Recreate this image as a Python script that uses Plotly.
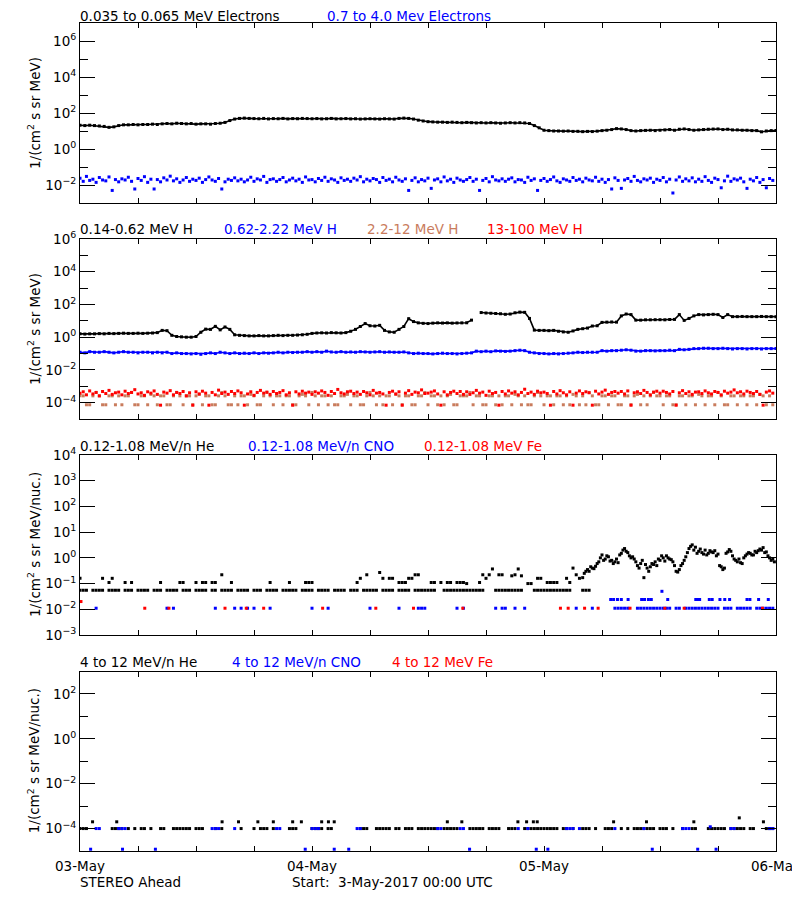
import plotly.graph_objects as go

# ---------------- DATA (hours since 3-May-2017 00:00 UTC) ----------------
# Panel 1, 30-min samples, 0..72 h
e_low = [
 21,20,21,20,19,18,16,17,20,22,22,23,
 22,23,23,24,23,25,26,25,27,26,25,26,
 24,25,25,24,26,27,30,38,46,50,52,50,
 49,48,50,47,49,48,50,47,49,48,50,49,
 48,49,47,48,50,47,48,49,47,48,46,47,
 48,47,46,48,47,46,50,52,50,46,40,36,
 33,32,31,31,30,31,30,29,30,29,28,29,
 28,29,28,27,28,29,28,29,28,26,20,15,
 11,10.5,10,10,9.8,10,9.5,9.6,9.2,9.5,9.3,9.8,
 10.5,11,12,13.5,13,12,10.5,10,10.5,10.8,11,10.5,
 11,11.5,12,11,12.5,13,12,11,11.5,12,12.5,12.8,
 13,12,12.5,11.5,11.5,11,11,10.5,10.5,9,10,10.5,
 10.5]
# Panel 1, 20-min samples
e_high = [
 .024,.016,.030,.018,.021,.014,.026,.019,.017,.028,.005,.020,
 .015,.022,.019,.027,.016,.006,.023,.018,.029,.014,.021,.006,
 .020,.015,.025,.019,.031,.017,.022,.014,.019,.026,.016,.021,
 .018,.024,.014,.020,.028,.019,.016,.023,.006,.015,.021,.018,
 .025,.017,.021,.015,.019,.027,.016,.022,.019,.030,.014,.020,
 .022,.016,.020,.026,.015,.019,.024,.017,.021,.014,.028,.019,
 .020,.015,.023,.018,.027,.016,.022,.019,.014,.025,.018,.021,
 .016,.024,.019,.029,.015,.021,.017,.023,.020,.014,.026,.018,
 .021,.015,.027,.019,.016,.022,.005,.018,.025,.015,.020,.017,
 .024,.0065,.019,.022,.015,.028,.017,.021,.014,.024,.019,.016,
 .020,.026,.016,.021,.005,.018,.023,.015,.029,.019,.017,.022,
 .016,.021,.025,.015,.020,.019,.014,.027,.018,.022,.005,.018,
 .023,.016,.020,.028,.017,.014,.022,.019,.016,.026,.018,.021,
 .015,.024,.019,.017,.027,.016,.021,.014,.020,.006,.025,.018,
 .0065,.019,.023,.016,.030,.018,.015,.022,.019,.024,.014,.021,
 .018,.026,.015,.021,.0036,.019,.028,.016,.022,.017,.025,.015,
 .021,.016,.029,.018,.014,.024,.020,.007,.017,.031,.016,.022,
 .019,.024,.015,.0065,.021,.017,.026,.014,.020,.007,.023,.018]

# Panel 2, 30-min samples
h_014_062 = [
 1.6,1.55,1.6,1.6,1.65,1.6,1.7,1.65,1.7,1.75,1.7,1.7,
 1.75,1.7,1.75,1.8,1.9,2.6,2.5,1.3,1.1,1.05,1.0,1.0,
 1.1,2.0,3.1,3.0,4.6,2.8,4.2,3.0,1.4,1.3,1.25,1.2,
 1.2,1.25,1.2,1.2,1.25,1.3,1.25,1.3,1.3,1.35,1.4,1.5,
 1.7,1.8,1.85,1.8,1.9,1.85,1.8,1.9,2.3,3.0,4.5,6.8,
 5.0,4.8,5.3,2.6,2.1,2.0,3.0,4.5,13.5,9.0,7.5,7.0,
 6.8,7.2,7.5,7.3,7.5,7.2,7.4,7.5,7.6,11,None,32,
 30,29,28,27,25,26,31,34,33,14,2.7,2.6,
 2.6,2.5,2.6,2.3,2.1,2.0,2.4,3.0,3.3,3.6,4.8,5.0,
 8.0,8.3,8.5,8.3,20,26,24,11,11,11.5,11.5,11.7,
 11.7,11.5,12,12.2,24,10.6,14,20,24,23,24,25,
 24,16,24,18,18,18.5,18,18,18,18.5,18,18,
 18]
h_062_222 = [
 .12,.11,.13,.12,.12,.13,.12,.11,.12,.13,.12,.12,
 .11,.12,.12,.11,.12,.11,.12,.10,.11,.10,.10,.095,
 .10,.09,.10,.11,.10,.12,.11,.10,.11,.10,.105,.10,
 .11,.10,.11,.105,.11,.12,.11,.12,.115,.12,.12,.13,
 .12,.13,.12,.14,.125,.12,.13,.12,.125,.12,.13,.125,
 .12,.125,.13,.12,.125,.12,.12,.125,.11,.10,.105,.10,
 .10,.095,.10,.105,.10,.10,.095,.10,.105,.11,.14,.13,
 .14,.13,.145,.14,.135,.14,.15,.16,.15,.12,.11,.10,
 .10,.095,.10,.095,.10,.105,.11,.12,.115,.12,.12,.12,
 .15,.14,.15,.15,.16,.17,.16,.14,.14,.15,.15,.145,
 .15,.15,.16,.15,.18,.17,.18,.20,.20,.21,.21,.20,
 .20,.21,.20,.19,.20,.20,.19,.20,.20,.19,.20,.20,
 .20]
# Panel 2, 20-min samples
h_22_12 = [
 2.6e-4,2.6e-4,7.4e-5,7.4e-5,2.6e-4,4.2e-4,2.6e-4,7.4e-5,7.4e-5,2.6e-4,2.6e-4,7.4e-5,
 2.6e-4,7.4e-5,2.6e-4,2.6e-4,4.2e-4,7.4e-5,7.4e-5,2.6e-4,2.6e-4,7.4e-5,3.2e-4,2.6e-4,
 7.4e-5,2.6e-4,2.6e-4,7.4e-5,7.4e-5,2.6e-4,4.2e-4,2.6e-4,7.4e-5,2.6e-4,2.6e-4,7.4e-5,
 2.6e-4,3.2e-4,7.4e-5,2.6e-4,2.6e-4,7.4e-5,7.4e-5,2.6e-4,4.2e-4,2.6e-4,7.4e-5,7.4e-5,
 2.6e-4,7.4e-5,2.6e-4,2.6e-4,7.4e-5,3.2e-4,2.6e-4,7.4e-5,7.4e-5,2.6e-4,4.2e-4,2.6e-4,
 7.4e-5,2.6e-4,2.6e-4,7.4e-5,2.6e-4,2.6e-4,7.4e-5,7.4e-5,2.6e-4,3.2e-4,2.6e-4,7.4e-5,
 4.2e-4,2.6e-4,7.4e-5,2.6e-4,2.6e-4,7.4e-5,2.6e-4,7.4e-5,7.4e-5,2.6e-4,2.6e-4,3.2e-4,
 7.4e-5,2.6e-4,2.6e-4,7.4e-5,7.4e-5,2.6e-4,4.2e-4,2.6e-4,7.4e-5,2.6e-4,7.4e-5,2.6e-4,
 2.6e-4,7.4e-5,3.2e-4,2.6e-4,7.4e-5,2.6e-4,2.6e-4,7.4e-5,7.4e-5,2.6e-4,2.6e-4,4.2e-4,
 7.4e-5,2.6e-4,2.6e-4,7.4e-5,2.6e-4,7.4e-5,2.6e-4,3.2e-4,7.4e-5,7.4e-5,2.6e-4,2.6e-4,
 2.6e-4,4.2e-4,7.4e-5,2.6e-4,2.6e-4,7.4e-5,7.4e-5,2.6e-4,2.6e-4,7.4e-5,2.6e-4,7.4e-5,
 2.6e-4,2.6e-4,7.4e-5,3.2e-4,2.6e-4,7.4e-5,2.6e-4,7.4e-5,7.4e-5,2.6e-4,4.2e-4,2.6e-4,
 7.4e-5,2.6e-4,2.6e-4,7.4e-5,2.6e-4,2.6e-4,7.4e-5,2.6e-4,7.4e-5,3.2e-4,2.6e-4,7.4e-5,
 2.6e-4,7.4e-5,4.2e-4,2.6e-4,7.4e-5,7.4e-5,2.6e-4,2.6e-4,7.4e-5,2.6e-4,2.6e-4,7.4e-5,
 7.4e-5,2.6e-4,2.6e-4,7.4e-5,2.6e-4,3.2e-4,7.4e-5,2.6e-4,7.4e-5,2.6e-4,4.2e-4,2.6e-4,
 2.6e-4,7.4e-5,2.6e-4,2.6e-4,7.4e-5,7.4e-5,2.6e-4,2.6e-4,7.4e-5,2.6e-4,2.6e-4,7.4e-5,
 3.2e-4,2.6e-4,7.4e-5,2.6e-4,2.6e-4,7.4e-5,4.2e-4,2.6e-4,7.4e-5,7.4e-5,2.6e-4,2.6e-4,
 7.4e-5,2.6e-4,2.6e-4,7.4e-5,2.6e-4,2.6e-4,7.4e-5,3.2e-4,2.6e-4,7.4e-5,2.6e-4,7.4e-5]
h_13_100 = [
 3.8e-4,4.6e-4,3.0e-4,5.2e-4,3.4e-4,4.2e-4,2.6e-4,4.8e-4,3.6e-4,5.6e-4,3.2e-4,4.0e-4,
 4.4e-4,3.0e-4,5.0e-4,3.6e-4,4.2e-4,6.2e-4,3.4e-4,4.0e-4,2.8e-4,4.6e-4,3.8e-4,5.2e-4,
 3.2e-4,0.7e-4,4.4e-4,3.8e-4,5.4e-4,3.0e-4,4.2e-4,3.6e-4,4.8e-4,2.6e-4,4.0e-4,0.7e-4,
 4.6e-4,3.4e-4,5.0e-4,3.8e-4,0.7e-4,4.2e-4,3.0e-4,5.8e-4,3.6e-4,4.4e-4,3.2e-4,4.8e-4,
 3.6e-4,5.2e-4,4.0e-4,0.7e-4,3.4e-4,4.6e-4,2.8e-4,4.2e-4,5.6e-4,3.8e-4,4.4e-4,3.2e-4,
 4.8e-4,3.6e-4,4.2e-4,5.4e-4,3.0e-4,4.0e-4,0.7e-4,4.6e-4,3.4e-4,5.0e-4,3.8e-4,4.4e-4,
 3.2e-4,4.6e-4,3.8e-4,5.2e-4,4.2e-4,2.8e-4,4.8e-4,3.6e-4,6.4e-4,4.0e-4,3.4e-4,4.6e-4,
 5.0e-4,3.6e-4,4.4e-4,3.2e-4,4.8e-4,4.0e-4,3.0e-4,5.6e-4,3.8e-4,4.2e-4,3.4e-4,0.7e-4,
 4.2e-4,5.0e-4,3.4e-4,4.6e-4,0.7e-4,3.8e-4,5.4e-4,3.2e-4,4.4e-4,4.0e-4,6.0e-4,3.6e-4,
 3.8e-4,4.4e-4,5.2e-4,3.4e-4,0.7e-4,4.6e-4,3.0e-4,4.2e-4,5.0e-4,3.6e-4,4.8e-4,3.2e-4,
 4.6e-4,3.2e-4,4.0e-4,5.6e-4,3.8e-4,4.4e-4,2.8e-4,5.0e-4,3.6e-4,4.2e-4,0.7e-4,4.8e-4,
 3.4e-4,5.2e-4,3.8e-4,4.6e-4,3.0e-4,4.2e-4,6.6e-4,3.6e-4,4.4e-4,3.2e-4,5.0e-4,4.0e-4,
 4.4e-4,3.6e-4,0.7e-4,4.8e-4,3.4e-4,5.4e-4,4.0e-4,3.0e-4,4.6e-4,0.7e-4,3.8e-4,5.2e-4,
 3.6e-4,4.6e-4,4.0e-4,0.7e-4,5.0e-4,3.4e-4,4.4e-4,5.8e-4,3.2e-4,4.2e-4,4.8e-4,3.8e-4,
 4.8e-4,3.4e-4,5.2e-4,0.7e-4,4.0e-4,4.6e-4,3.6e-4,5.6e-4,4.2e-4,3.0e-4,4.4e-4,5.0e-4,
 3.8e-4,5.0e-4,4.2e-4,3.4e-4,4.8e-4,0.7e-4,4.0e-4,5.4e-4,3.6e-4,4.6e-4,3.2e-4,4.4e-4,
 4.6e-4,3.6e-4,5.2e-4,4.0e-4,3.4e-4,4.8e-4,4.2e-4,3.0e-4,5.0e-4,3.8e-4,4.4e-4,6.0e-4,
 4.0e-4,4.6e-4,3.4e-4,5.0e-4,4.2e-4,3.6e-4,4.8e-4,3.2e-4,0.7e-4,4.4e-4,5.2e-4,3.8e-4]

# Panel 3, 20-min samples (None = no counts)
he_low_base = [
 .055,.055,.055,None,.055,.055,.055,.055,None,.055,.055,.055,
 .055,None,.055,.055,.055,None,.055,.055,.055,.055,None,.055,
 .055,.055,None,.055,.055,.055,.055,None,.055,.055,.055,None,
 .055,.055,.055,.055,None,.055,.055,None,.055,.055,.055,.055,
 None,.055,.055,.055,.055,None,.055,.055,.055,None,.055,.055,
 .055,.055,None,.055,.055,.055,.055,.055,None,.055,.055,.055,
 .055,None,.055,.055,.055,.055,None,.055,.055,.055,.055,None,
 .055,.055,.055,None,.055,.055,.055,.055,.055,None,.055,.055,
 .055,.055,None,.055,.055,.055,.055,None,.055,.055,.055,.055,
 .055,.055,.055,None,None,.055,.055,.055,.055,.055,.055,.055,
 .055,.055,.055,.055,.055,.055,None,None,None,.055,.055,.055,
 .055,.055,.055,.055,.055,.055,None,None,None,.055,.055,.055,
 .055,.055,.055,.055,.055,.055,.055,.055,.055,None,None,None,
 .055,.055,.055,None,None,None,None,None,None,None,None,None,
 None,None,None,None,None,None,None,None,None,None,None,None,
 None,None,None,None,None,None,None,None,None,None,None,None,
 None,None,None,None,None,None,None,None,None,None,None,None,
 None,None,None,None,None,None,None,None,None,None,None,None]
he_low_upper = [
 .16,None,None,None,None,None,None,.16,None,.11,.16,None,
 None,None,.11,None,.11,None,None,None,None,None,None,None,
 None,.11,None,None,None,None,None,.11,.11,None,None,None,
 .11,None,.11,.11,None,.11,.11,None,.22,None,None,.11,
 None,None,None,None,None,None,None,None,None,None,None,.11,
 None,None,None,None,None,.11,None,None,None,None,.11,.11,
 .11,None,None,None,None,None,None,None,None,None,None,None,
 None,None,.11,.16,None,.22,None,None,None,.27,.16,None,
 .16,.16,None,.11,.11,.11,.16,.16,.22,.22,None,None,
 None,.11,.11,None,.11,None,.11,.11,None,.11,.11,.11,
 .10,None,None,None,.11,.22,.16,.22,.37,None,.22,.22,
 None,None,.20,.22,.37,.20,None,.10,.10,None,.16,.16,
 None,.11,.11,.11,.11,None,None,.16,.11,.40,.22,.16,
 .17,.30,.30,.40,.47,.70,1.3,.90,1.1,.80,.70,.65,
 1.5,2.3,1.6,1.0,.90,.50,.60,.17,.40,.45,.55,.50,
 .80,1.0,1.2,.90,.70,.30,.35,.60,1.1,2.3,3.2,2.6,
 1.8,1.6,2.0,1.5,1.7,1.9,1.4,.45,.40,1.7,1.8,.90,
 .70,.65,1.0,1.4,1.5,1.3,1.6,2.2,2.5,1.7,1.0,.90]
# extra He samples from 52h10m onward, 20-min spacing
he_low_extra = [
 .25,.35,.45,.38,.60,1.0,.80,1.2,.75,.60,.90,1.3,
 2.0,1.8,1.2,1.1,.70,.40,.80,.55,.30,.60,.70,.90,
 1.2,.75,1.0,.85,.50,.28,.50,.80,1.6,2.8,2.0,1.5,
 2.2,1.4,1.3,1.9,1.6,1.2,.50,.35,1.5,2.1,1.2,.80,
 .90,.60,1.2,1.6,1.3,1.8,1.9,2.0,1.6,1.2,.80,.70]
cno_low = [
 None,None,None,None,None,.011,None,None,None,None,None,None,
 None,None,None,None,None,None,None,None,None,None,None,None,
 None,None,None,.011,None,.011,None,None,None,None,None,None,
 None,None,None,None,None,None,.011,None,None,None,None,None,
 .011,None,.011,None,.011,None,.011,None,None,None,None,.011,
 None,None,None,None,None,None,None,None,None,None,None,None,
 .011,None,None,None,None,.011,None,None,None,None,None,None,
 None,None,None,None,None,None,.011,None,None,None,None,None,
 None,None,None,.011,None,None,None,None,None,.011,.011,.011,
 None,None,None,None,None,None,None,None,None,.011,None,.011,
 None,None,None,None,None,None,None,None,None,.011,None,.011,
 .011,None,None,.011,None,None,.011,None,None,None,None,None,
 None,None,None,None,None,None,None,None,None,None,.011,None,
 None,None,None,.011,None,None,None,None,None,None,.011,.011,
 .011,.011,.011,None,None,.011,.011,.011,.011,.011,.011,.011,
 .011,.011,.011,.011,None,.011,.011,None,.011,.011,.011,.011,
 .011,.011,.011,.011,.011,.011,.011,None,.011,.011,.011,None,
 .011,.011,.011,.011,.011,None,.011,.011,.011,.011,.011,.011]
cno_low_t_hi = [54.9,55.2,55.6,56.0,56.7,58.1,58.4,58.8,59.1,60.2,60.8,63.7,63.9,64.1,
                65.1,65.4,66.2,66.7,67.2,69.0,69.3,70.2,71.2]
cno_low_v_hi = [.024,.024,.024,.024,.024,.024,.024,.024,.024,.05,.024,.024,.024,.024,
                .024,.024,.024,.024,.024,.024,.024,.024,.024]
fe_low_t = [0.1,6.7,9.2,15.0,17.2,19.0,25.1,30.6,34.5,39.6,49.7,50.5,52.2,53.6,56.9,60.5,62.5,70.6]
fe_low_v = [.02,.011,.011,.011,.011,.011,.011,.011,.011,.011,.011,.011,.011,.011,.011,.011,.011,.011]

# Panel 4, 20-min samples
he_high = [
 1e-4,1e-4,1e-4,None,None,None,None,None,None,None,1e-4,1e-4,
 1e-4,1e-4,None,1e-4,None,1e-4,None,1e-4,1e-4,None,1e-4,None,
 None,1e-4,1e-4,None,None,1e-4,1e-4,1e-4,1e-4,1e-4,1e-4,None,
 1e-4,1e-4,1e-4,None,None,None,1e-4,None,1e-4,None,None,None,
 None,None,1e-4,None,None,None,1e-4,None,1e-4,1e-4,1e-4,None,
 1e-4,None,None,None,None,1e-4,1e-4,1e-4,None,None,None,None,
 1e-4,1e-4,1e-4,1e-4,None,1e-4,1e-4,None,None,None,None,None,
 None,None,None,1e-4,1e-4,1e-4,None,None,1e-4,1e-4,1e-4,1e-4,
 1e-4,None,1e-4,1e-4,None,1e-4,1e-4,1e-4,None,1e-4,1e-4,1e-4,
 1e-4,1e-4,1e-4,1e-4,None,1e-4,1e-4,1e-4,1e-4,1e-4,None,None,
 None,1e-4,1e-4,1e-4,1e-4,1e-4,None,1e-4,1e-4,1e-4,1e-4,None,
 None,1e-4,1e-4,1e-4,None,None,1e-4,1e-4,1e-4,1e-4,1e-4,1e-4,
 1e-4,1e-4,1e-4,1e-4,1e-4,None,1e-4,1e-4,None,1e-4,None,None,
 1e-4,1e-4,1e-4,None,1e-4,None,None,1e-4,1e-4,1e-4,None,None,
 1e-4,None,1e-4,None,1e-4,1e-4,1e-4,1e-4,1e-4,1e-4,1e-4,None,
 1e-4,1e-4,1e-4,None,1e-4,None,None,1e-4,None,None,1e-4,1e-4,
 None,None,None,1e-4,1e-4,1e-4,1e-4,1e-4,1e-4,None,1e-4,1e-4,
 1e-4,1e-4,1e-4,None,1e-4,1e-4,None,None,None,1e-4,1e-4,1e-4]
he_high_t_up = [1.3,3.8,14.7,16.4,18.4,20.0,22.0,22.9,25.0,25.7,26.3,38.0,39.5,45.3,46.2,
                46.9,47.3,55.2,58.6,63.5,68.2,70.7]
he_high_v_up = [2e-4,2e-4,2e-4,2e-4,2e-4,2e-4,2e-4,2e-4,2e-4,2e-4,2e-4,2e-4,2e-4,2e-4,2e-4,
                2e-4,2e-4,2e-4,2e-4,2e-4,3e-4,2e-4]
cno_high = [
 None,None,None,None,None,1e-4,1e-4,None,None,None,None,None,
 1e-4,1e-4,1e-4,None,None,None,None,None,None,None,None,None,
 None,None,None,None,None,None,None,None,None,None,None,None,
 None,None,None,None,None,1e-4,1e-4,1e-4,None,None,None,None,
 1e-4,None,None,None,None,None,None,None,None,None,None,None,
 None,1e-4,1e-4,None,None,None,None,None,None,None,None,None,
 1e-4,1e-4,1e-4,None,None,None,None,None,None,None,None,None,
 None,None,1e-4,1e-4,None,None,None,None,None,None,None,None,
 None,None,None,None,None,None,None,None,None,None,None,None,
 None,None,None,1e-4,1e-4,None,None,None,None,None,1e-4,1e-4,
 None,None,None,None,None,None,None,None,None,None,None,None,
 None,None,None,None,1e-4,None,None,1e-4,None,None,None,None,
 None,None,None,None,None,None,None,1e-4,1e-4,1e-4,None,1e-4,
 None,None,None,None,None,None,None,None,None,None,1e-4,None,
 None,None,None,None,None,None,None,1e-4,None,None,None,None,
 None,None,None,None,None,None,None,1e-4,1e-4,1e-4,None,None,
 None,None,None,None,None,None,None,None,None,None,1e-4,1e-4,
 None,None,None,None,None,None,None,None,None,None,1e-4,1e-4]
cno_high_t_lo = [1.1,4.4,7.8,23.3,26.3,27.8,40.3,47.2,48.4,59.2,63.9,65.2,65.8]
cno_high_v_lo = [1.2e-5,1.2e-5,1.2e-5,1.2e-5,1.2e-5,1.2e-5,1.2e-5,1.2e-5,1.2e-5,1.2e-5,
                 1.2e-5,1.2e-4,1.2e-5]

day_ticks = ["03-May", "04-May", "05-May", "06-May"]

for arr, n in [(e_low, 145), (e_high, 216), (h_014_062, 145), (h_062_222, 145),
               (h_22_12, 216), (h_13_100, 216), (he_low_base, 216), (he_low_upper, 216),
               (he_low_extra, 60), (cno_low, 216), (he_high, 216), (cno_high, 216)]:
    assert len(arr) == n, (len(arr), n)


def times(vals, step, start=0.0):
    return [start + i * step for i in range(len(vals))]


# ---------------- FIGURE ----------------
BLACK, BLUE, RED, SIENNA = "#000000", "#0000ff", "#ff0000", "#c97c5d"
FONT = "DejaVu Sans"
FS = 13.5


def dots(x, y, color, ax, size=3):
    return go.Scatter(x=x, y=y, mode="markers", xaxis="x" + ax, yaxis="y" + ax,
                      marker=dict(symbol="square", size=size, color=color, line=dict(width=0)),
                      showlegend=False, hoverinfo="skip")


def curve(x, y, color, ax, width=1.6, msize=3):
    return go.Scatter(x=x, y=y, mode="lines+markers", xaxis="x" + ax, yaxis="y" + ax,
                      line=dict(color=color, width=width), connectgaps=False,
                      marker=dict(symbol="square", size=msize, color=color, line=dict(width=0)),
                      showlegend=False, hoverinfo="skip")


fig = go.Figure()
# panel 1
fig.add_trace(curve(times(e_low, 0.5), e_low, BLACK, ""))
fig.add_trace(dots(times(e_high, 1 / 3), e_high, BLUE, ""))
# panel 2
fig.add_trace(curve(times(h_014_062, 0.5), h_014_062, BLACK, "2"))
fig.add_trace(curve(times(h_062_222, 0.5), h_062_222, BLUE, "2"))
fig.add_trace(dots(times(h_22_12, 1 / 3), h_22_12, SIENNA, "2"))
fig.add_trace(dots(times(h_13_100, 1 / 3), h_13_100, RED, "2"))
# panel 3
fig.add_trace(dots(times(he_low_base, 1 / 3), he_low_base, BLACK, "3"))
fig.add_trace(dots(times(he_low_upper, 1 / 3), he_low_upper, BLACK, "3"))
fig.add_trace(dots(times(he_low_extra, 1 / 3, 52 + 1 / 6), he_low_extra, BLACK, "3"))
fig.add_trace(dots(times(cno_low, 1 / 3), cno_low, BLUE, "3"))
fig.add_trace(dots(cno_low_t_hi, cno_low_v_hi, BLUE, "3"))
fig.add_trace(dots(fe_low_t, fe_low_v, RED, "3"))
# panel 4
fig.add_trace(dots(times(he_high, 1 / 3), he_high, BLACK, "4"))
fig.add_trace(dots(he_high_t_up, he_high_v_up, BLACK, "4"))
fig.add_trace(dots(times(cno_high, 1 / 3), cno_high, BLUE, "4"))
fig.add_trace(dots(cno_high_t_lo, cno_high_v_lo, BLUE, "4"))

# layout geometry in screen pixels; the page body adds an 8 px offset
OFF = 8
PL, PR = 80, 776          # plot left / right on screen
TOP, BOT = 23, 851        # top of first panel / bottom of last panel on screen
SPAN = BOT - TOP
panels = [(23, 203), (239, 419), (455, 635), (671.5, 851)]


def py(p):
    return (BOT - p) / SPAN


def px(p):
    return (p - PL) / (PR - PL)


def sup(e):
    return "10<sup>%s</sup>" % (str(e).replace("-", "\u2212"))


yspecs = [
    dict(rng=[-3, 7], major=[-2, 0, 2, 4, 6], minor=[-1, 1, 3, 5]),
    dict(rng=[-5, 6], major=[-4, -2, 0, 2, 4, 6], minor=[-3, -1, 1, 3, 5]),
    dict(rng=[-3, 4], major=[-3, -2, -1, 0, 1, 2, 3, 4], minor=[]),
    dict(rng=[-5, 3], major=[-4, -2, 0, 2], minor=[-3, -1, 1]),
]

day_vals = [0, 24, 48, 72]
six_hour = [t for t in range(0, 73, 6) if t % 24 != 0]

W, H = 800, 900
layout = dict(template="none", width=W, height=H, paper_bgcolor="white",
              plot_bgcolor="white",
              margin=dict(l=PL - OFF, r=W - (PR - OFF), t=TOP - OFF, b=H - (BOT - OFF),
                          pad=0, autoexpand=False),
              font=dict(family=FONT, size=FS, color="black"), showlegend=False)

for i, ((ptop, pbot), ys) in enumerate(zip(panels, yspecs)):
    k = "" if i == 0 else str(i + 1)
    layout["xaxis" + k] = dict(
        domain=[0, 1], anchor="y" + k, range=[0, 72], tickmode="array",
        tickvals=day_vals, ticktext=day_ticks, showticklabels=(i == 3),
        ticks="inside", ticklen=5, tickwidth=1, tickcolor="black", ticklabelstandoff=3,
        minor=dict(tickmode="array", tickvals=six_hour, ticks="inside", ticklen=5,
                   tickwidth=1, tickcolor="black", showgrid=False),
        showline=True, linecolor="black", linewidth=1, mirror="ticks",
        showgrid=False, zeroline=False, automargin=False, ticklabeloverflow="allow",
        tickfont=dict(size=FS, family=FONT, color="black"))
    layout["yaxis" + k] = dict(
        domain=[py(pbot), py(ptop)], anchor="x" + k, type="log", range=ys["rng"],
        tickmode="array", tickvals=[10.0 ** e for e in ys["major"]],
        ticktext=[sup(e) for e in ys["major"]],
        ticks="inside", ticklen=15, tickwidth=1, tickcolor="black",
        minor=dict(tickmode="array", tickvals=[10.0 ** e for e in ys["minor"]],
                   ticks="inside", ticklen=8, tickwidth=1, tickcolor="black", showgrid=False),
        showline=True, linecolor="black", linewidth=1, mirror="ticks",
        showgrid=False, zeroline=False, automargin=False, ticklabeloverflow="allow",
        tickfont=dict(size=FS, family=FONT, color="black"))

anns = []


def text(t, x, y, color="black", **kw):
    d = dict(text=t, x=px(x), y=py(y), xref="paper", yref="paper", showarrow=False,
             xanchor="left", yanchor="middle", borderpad=0,
             font=dict(family=FONT, size=FS, color=color))
    d.update(kw)
    anns.append(d)


text("0.035 to 0.065 MeV Electrons", 79, 16)
text("0.7 to 4.0 Mev Electrons", 326, 16, BLUE)
text("0.14-0.62 MeV H", 79, 229)
text("0.62-2.22 MeV H", 223, 229, BLUE)
text("2.2-12 MeV H", 366, 229, SIENNA)
text("13-100 MeV H", 486, 229, RED)
text("0.12-1.08 MeV/n He", 79, 446)
text("0.12-1.08 MeV/n CNO", 247, 446, BLUE)
text("0.12-1.08 MeV Fe", 423, 446, RED)
text("4 to 12 MeV/n He", 79, 661.5)
text("4 to 12 MeV/n CNO", 231, 661.5, BLUE)
text("4 to 12 MeV Fe", 391, 661.5, RED)
text("STEREO Ahead", 79, 882)
text("Start:\u00a0\u00a03-May-2017 00:00 UTC", 291, 882)
ytitles = ["1/(cm<sup>2</sup> s sr MeV)", "1/(cm<sup>2</sup> s sr MeV)",
           "1/(cm<sup>2</sup> s sr MeV/nuc.)", "1/(cm<sup>2</sup> s sr MeV/nuc.)"]
for (ptop, pbot), t in zip(panels, ytitles):
    text(t, 34, (ptop + pbot) / 2, xanchor="center", textangle=-90)

layout["annotations"] = anns
fig.update_layout(**layout)
fig.write_html("out.html")
